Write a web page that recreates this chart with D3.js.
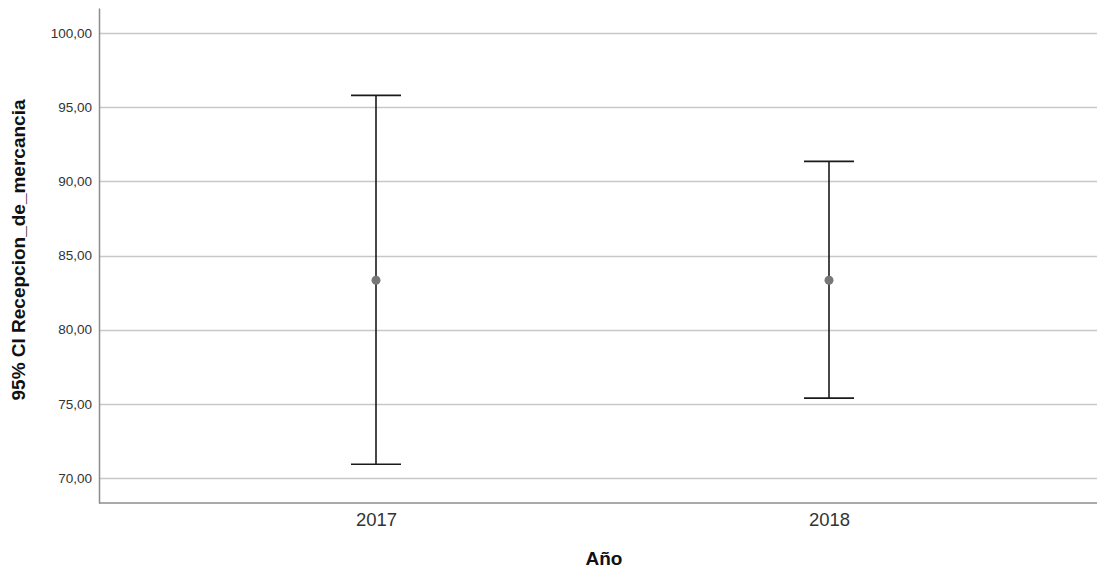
<!DOCTYPE html>
<html>
<head>
<meta charset="utf-8">
<script src="https://cdn.jsdelivr.net/npm/d3@7"></script>
<style>
  html, body { margin: 0; padding: 0; background: #fff; }
  svg { display: block; font-family: "Liberation Sans", Arial, sans-serif; }
</style>
</head>
<body>
<svg id="chart" width="1098" height="570"></svg>
<script>
const categories = ["2017", "2018"];
const means = [83.33, 83.33];
const lowers = [70.92, 75.38];
const uppers = [95.80, 91.35];
const yTicks = [70, 75, 80, 85, 90, 95, 100];

(function () {
const svg = d3.select("#chart");
const mLeft = 99, mRight = 1097, mTop = 8, mBottom = 503;

const y = d3.scaleLinear().domain([68.31, 101.69]).range([mBottom, mTop]);
const x = d3.scalePoint().domain(categories).range([376, 829]);

const fmt = d => d3.format(".2f")(d).replace(".", ",");

// gridlines
svg.append("g").selectAll("line").data(yTicks).join("line")
  .attr("x1", mLeft).attr("x2", mRight)
  .attr("y1", d => Math.round(y(d)) + 0.5).attr("y2", d => Math.round(y(d)) + 0.5)
  .attr("stroke", "#c8c8c8").attr("stroke-width", 1.5);

// y axis
const yAxis = svg.append("g").attr("transform", `translate(${mLeft},0)`)
  .call(d3.axisLeft(y).tickValues(yTicks).tickFormat(fmt).tickSize(0).tickPadding(7));
yAxis.select(".domain").attr("stroke", "#8c8c8c").attr("stroke-width", 1.5);
yAxis.selectAll("text").attr("font-size", 13.5).attr("fill", "#333")
  .attr("font-family", "Liberation Sans, Arial, sans-serif");

// x axis
const xAxis = svg.append("g").attr("transform", `translate(0,${mBottom})`)
  .call(d3.axisBottom(x).tickSize(0).tickPadding(10));
xAxis.select(".domain").attr("d", `M${mLeft},0H${mRight}`).attr("stroke", "#8c8c8c").attr("stroke-width", 1.5);
xAxis.selectAll("text").attr("font-size", 18.5).attr("fill", "#333")
  .attr("font-family", "Liberation Sans, Arial, sans-serif");

// error bars
const capHalf = 25;
const g = svg.append("g");
categories.forEach((c, i) => {
  const cx = x(c);
  g.append("line").attr("x1", cx).attr("x2", cx)
    .attr("y1", y(uppers[i])).attr("y2", y(lowers[i]))
    .attr("stroke", "#1a1a1a").attr("stroke-width", 1.6);
  [uppers[i], lowers[i]].forEach(v => {
    g.append("line").attr("x1", cx - capHalf).attr("x2", cx + capHalf)
      .attr("y1", y(v)).attr("y2", y(v))
      .attr("stroke", "#1a1a1a").attr("stroke-width", 1.6);
  });
  g.append("circle").attr("cx", cx).attr("cy", y(means[i])).attr("r", 4.5)
    .attr("fill", "#777");
});

// axis titles
svg.append("text").attr("x", 604).attr("y", 565).attr("text-anchor", "middle")
  .attr("font-size", 19).attr("font-weight", "bold").attr("fill", "#111").text("Año");
svg.append("text").attr("transform", "translate(25,250) rotate(-90)")
  .attr("text-anchor", "middle").attr("font-size", 19).attr("font-weight", "bold")
  .attr("fill", "#111").text("95% CI Recepcion_de_mercancia");
})();
</script>
</body>
</html>
